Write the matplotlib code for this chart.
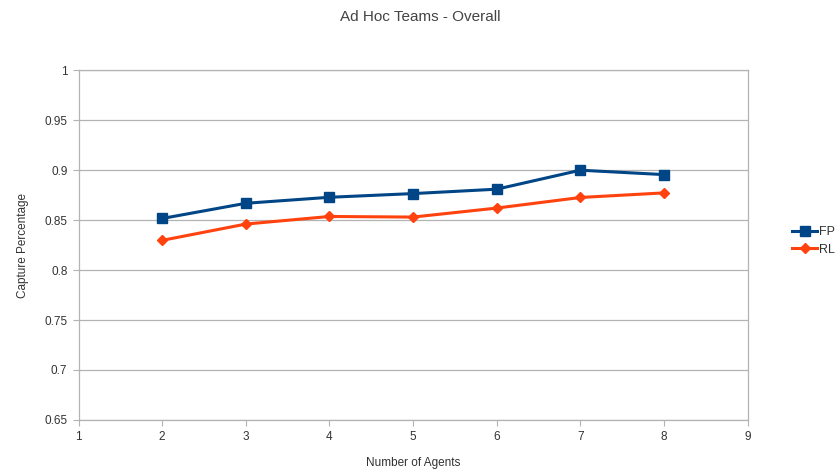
import matplotlib.pyplot as plt

# Capture rate per team size
agents = [2, 3, 4, 5, 6, 7, 8]
fp_capture = [0.8516, 0.8668, 0.8728, 0.8765, 0.8809, 0.8999, 0.8955]
rl_capture = [0.8297, 0.8460, 0.8536, 0.8530, 0.8620, 0.8726, 0.8772]

x_ticks = [1, 2, 3, 4, 5, 6, 7, 8, 9]
y_ticks = [0.65, 0.7, 0.75, 0.8, 0.85, 0.9, 0.95, 1]
y_tick_labels = ["0.65", "0.7", "0.75", "0.8", "0.85", "0.9", "0.95", "1"]

plt.rcParams['font.family'] = ['Liberation Sans', 'DejaVu Sans']

fig = plt.figure(figsize=(8.4, 4.74), dpi=100)
ax = fig.add_axes([0.0935, 0.114, 0.7965, 0.738])

grid_col = '#b3b3b3'
ax.set_axisbelow(True)
ax.grid(True, axis='y', color=grid_col, linewidth=0.9)

ax.plot(agents, fp_capture, color='#004586', linewidth=2.2, marker='s',
        markersize=6.5, label='FP')
ax.plot(agents, rl_capture, color='#ff420e', linewidth=2.2, marker='D',
        markersize=5.5, label='RL')

ax.set_xlim(1, 9)
ax.set_ylim(0.65, 1)
ax.set_xticks(x_ticks)
ax.set_yticks(y_ticks)
ax.set_yticklabels(y_tick_labels)

for side in ['left', 'right', 'top', 'bottom']:
    ax.spines[side].set_color(grid_col)
    ax.spines[side].set_linewidth(0.9)
ax.tick_params(axis='both', direction='out', length=4, width=0.8,
               color=grid_col, labelsize=8.5, labelcolor='#333333', pad=4)

ax.set_xlabel('Number of Agents', fontsize=8.5, color='#333333', labelpad=10)
ax.set_ylabel('Capture Percentage', fontsize=8.5, color='#333333', labelpad=11)
fig.suptitle('Ad Hoc Teams - Overall', fontsize=11, color='#444444', y=0.978)

ax.legend(loc='center left', bbox_to_anchor=(1.05, 0.512), frameon=False,
          fontsize=9, handlelength=2.0, handletextpad=0.1, labelspacing=0.45,
          labelcolor='#333333')

fig.savefig('out.png', dpi=100)
